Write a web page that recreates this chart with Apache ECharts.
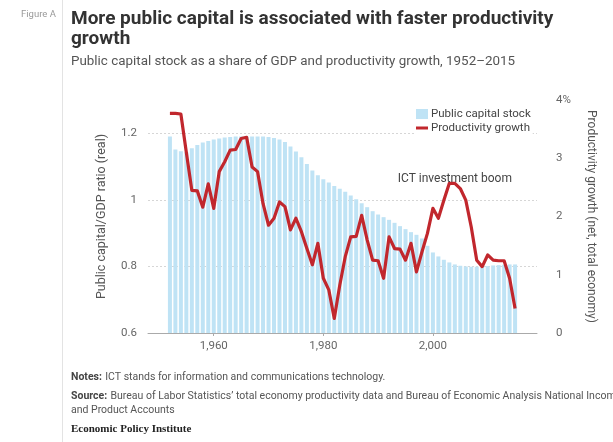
<!DOCTYPE html>
<html>
<head>
<meta charset="utf-8">
<script src="https://cdn.jsdelivr.net/npm/echarts@6/dist/echarts.min.js"></script>
<style>
  html, body { margin: 0; padding: 0; background: #fff; }
  #chart { width: 613px; height: 442px; }
</style>
</head>
<body>
<div id="chart"></div>
<script>
// Years covered by both series
const years = [];
for (let y = 1952; y <= 2015; y++) years.push(y);

// Public capital stock / GDP ratio (real), left axis
const capitalRatio = [
  1.19, 1.151, 1.146, 1.143, 1.155, 1.165, 1.172, 1.177, 1.181, 1.184,
  1.187, 1.189, 1.19, 1.19, 1.19, 1.19, 1.19, 1.19, 1.189, 1.186,
  1.181, 1.174, 1.16, 1.145, 1.128, 1.108, 1.088, 1.074, 1.062, 1.052,
  1.042, 1.033, 1.024, 1.013, 1.002, 0.99, 0.978, 0.966, 0.956, 0.948,
  0.94, 0.931, 0.921, 0.912, 0.903, 0.895, 0.884, 0.862, 0.842, 0.83,
  0.82, 0.812, 0.806, 0.802, 0.8, 0.799, 0.799, 0.8, 0.801, 0.803,
  0.804, 0.805, 0.806, 0.806
];

// Productivity growth (net, total economy), percent, right axis
const productivity = [
  3.77, 3.77, 3.76, 3.1, 2.45, 2.44, 2.16, 2.56, 2.14, 2.77,
  2.94, 3.14, 3.15, 3.34, 3.36, 2.85, 2.77, 2.22, 1.85, 1.97,
  2.25, 2.17, 1.77, 1.97, 1.74, 1.45, 1.17, 1.54, 0.94, 0.74,
  0.25, 0.82, 1.31, 1.65, 1.66, 2.02, 1.6, 1.25, 1.24, 0.94,
  1.65, 1.45, 1.44, 1.25, 1.54, 1.05, 1.39, 1.71, 2.14, 1.97,
  2.28, 2.57, 2.57, 2.48, 2.28, 1.82, 1.25, 1.14, 1.34, 1.25,
  1.24, 1.24, 0.94, 0.42
];

const xTicks = [1960, 1980, 2000];
const leftTicks = [0.6, 0.8, 1, 1.2];
const leftGrid = [0.8, 1, 1.2];

const capitalData = years.map((y, i) => [y, capitalRatio[i]]);
const productivityData = years.map((y, i) => [y, productivity[i]]);

const chart = echarts.init(document.getElementById('chart'), null, { renderer: 'canvas' });

const sans = 'Roboto, "Open Sans", "Liberation Sans", sans-serif';
const gray = '#666';
const red = '#c1272d';

chart.setOption({
  backgroundColor: '#fff',
  animation: false,
  textStyle: { fontFamily: sans },
  grid: { left: 148, right: 76, top: 100, bottom: 109 },
  legend: {
    left: 416, top: 108,
    orient: 'vertical',
    itemWidth: 12, itemHeight: 10, itemGap: 2,
    backgroundColor: '#fff',
    padding: [0, 2, 0, 0],
    textStyle: { fontSize: 11.5, color: '#444', fontFamily: sans, padding: [0, 0, 0, -2] },
    data: [
      { name: 'Public capital stock', icon: 'rect' },
      { name: 'Productivity growth', icon: 'path://M0,0h12v3h-12z' }
    ]
  },
  xAxis: {
    type: 'value',
    min: 1948, max: 2019,
    axisLine: { show: true, lineStyle: { color: '#aaa', width: 1 } },
    axisTick: { show: true, customValues: xTicks, length: 3, lineStyle: { color: '#aaa' } },
    axisLabel: { customValues: xTicks, color: gray, fontSize: 11.5, margin: 7 },
    splitLine: { show: false }
  },
  yAxis: [
    {
      type: 'value',
      min: 0.6, max: 1.3,
      position: 'left',
      name: 'Public capital/GDP ratio (real)',
      nameLocation: 'middle',
      nameGap: 40,
      nameTextStyle: { color: '#555', fontSize: 12.5 },
      axisLine: { show: false },
      axisTick: { show: false, customValues: leftGrid },
      axisLabel: { customValues: leftTicks, color: gray, fontSize: 11.5, margin: 11 },
      splitLine: { show: true, lineStyle: { color: '#d6d6d6', type: [2, 2], width: 1 } }
    },
    {
      type: 'value',
      min: 0, max: 4, interval: 1,
      position: 'right',
      name: 'Productivity growth (net, total economy)',
      nameLocation: 'middle',
      nameRotate: -90,
      nameGap: 48,
      nameTextStyle: { color: '#555', fontSize: 12 },
      axisLine: { show: false },
      axisTick: { show: false },
      axisLabel: {
        color: gray, fontSize: 11.5, margin: 19,
        formatter: v => (v === 4 ? '4%' : String(v))
      },
      splitLine: { show: false }
    }
  ],
  series: [
    {
      name: 'Public capital stock',
      type: 'bar',
      yAxisIndex: 0,
      data: capitalData,
      barWidth: 4,
      itemStyle: { color: '#bfe3f5' },
      z: 2
    },
    {
      name: 'Productivity growth',
      type: 'line',
      yAxisIndex: 1,
      data: productivityData,
      symbol: 'none',
      lineStyle: { color: red, width: 3.2, join: 'round' },
      itemStyle: { color: red },
      z: 3,
      markPoint: {
        symbol: 'circle', symbolSize: 0,
        silent: true,
        label: {
          show: true, position: 'top', distance: 0, offset: [0, 2],
          color: '#444', fontSize: 12, fontFamily: sans,
          formatter: 'ICT investment boom'
        },
        data: [{ coord: [2004, 2.57] }]
      }
    }
  ],
  graphic: [
    { type: 'line', shape: { x1: 62.5, y1: 0, x2: 62.5, y2: 442 }, style: { stroke: '#e3e3e3', lineWidth: 1 } },
    { type: 'text', left: 21, top: 10, style: { text: 'Figure A', fontSize: 9.5, fill: '#999', fontFamily: sans } },
    { type: 'text', left: 71, top: 9, style: {
        text: 'More public capital is associated with faster productivity\ngrowth',
        fontSize: 19, fontWeight: 'bold', fill: '#333', lineHeight: 20, fontFamily: sans } },
    { type: 'text', left: 71, top: 55, style: {
        text: 'Public capital stock as a share of GDP and productivity growth, 1952\u20132015',
        fontSize: 13.4, fill: '#555', fontFamily: sans } },
    { type: 'text', left: 71, top: 371, style: {
        rich: { b: { fontWeight: 'bold', fontSize: 10.5, fill: '#444', fontFamily: sans },
                n: { fontSize: 10.5, fill: '#555', fontFamily: sans } },
        text: '{b|Notes:} {n|ICT stands for information and communications technology.}' } },
    { type: 'text', left: 71, top: 390, style: {
        rich: { b: { fontWeight: 'bold', fontSize: 10.5, fill: '#444', fontFamily: sans, lineHeight: 14 },
                n: { fontSize: 10.5, fill: '#555', fontFamily: sans, lineHeight: 14 } },
        text: '{b|Source:} {n|Bureau of Labor Statistics\u2019 total economy productivity data and Bureau of Economic Analysis National Income}\n{n|and Product Accounts}' } },
    { type: 'text', left: 71, top: 424, style: {
        text: 'Economic Policy Institute', fontSize: 11, fontWeight: 'bold', fill: '#222',
        fontFamily: '"Liberation Serif", "DejaVu Serif", serif' } }
  ]
});
</script>
</body>
</html>
